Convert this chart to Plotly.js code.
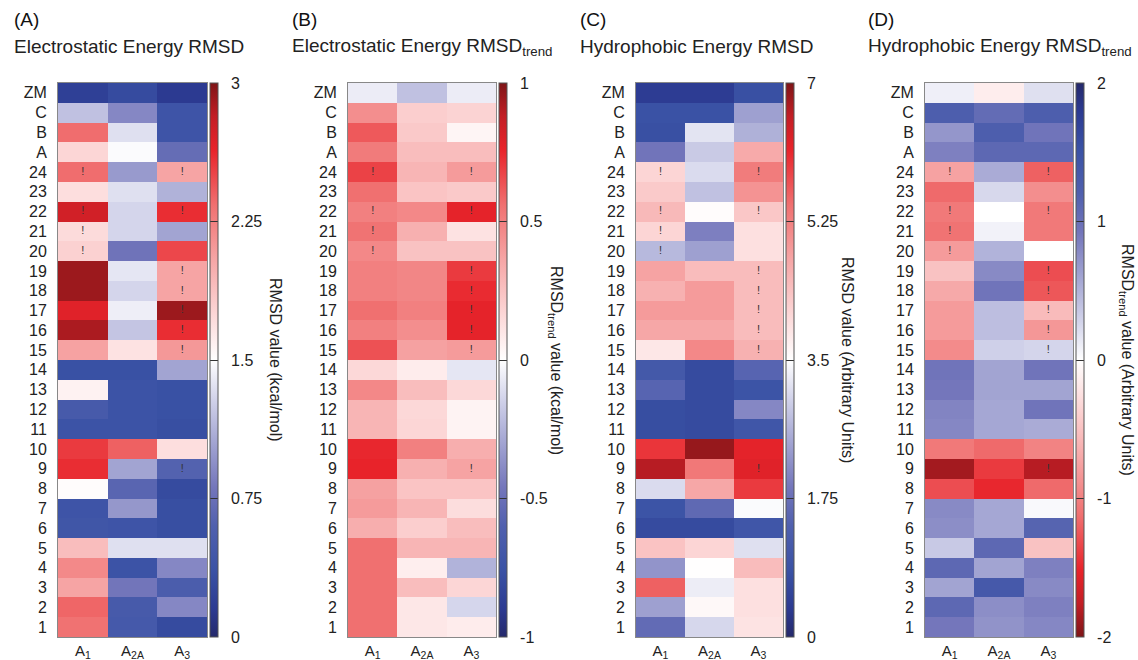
<!DOCTYPE html>
<html><head><meta charset="utf-8">
<script src="https://cdn.plot.ly/plotly-3.0.1.min.js"></script>
<style>html,body{margin:0;padding:0;background:#fff}#chart{width:1138px;height:660px}</style>
</head><body><div id="chart"></div>
<script>
// Rows bottom to top
const rows = ['1','2','3','4','5','6','7','8','9','10','11','12','13','14','15','16','17','18','19','20','21','22','23','24','A','B','C','ZM'];
const receptors = ['A1','A2A','A3'];
const receptorLabels = ['A<sub>1</sub>','A<sub>2A</sub>','A<sub>3</sub>'];

// (A) Electrostatic Energy RMSD (kcal/mol)
const elecRmsdA1  = [2.33,2.38,2.05,2.2,1.9,0.42,0.4,1.52,2.6,2.55,0.38,0.5,1.58,0.35,2.06,2.88,2.68,2.92,2.92,1.78,1.72,2.75,1.7,2.35,1.75,2.35,1.2,0.2];
const elecRmsdA2A = [0.48,0.5,0.8,0.38,1.35,0.4,0.98,0.65,1.05,2.4,0.38,0.38,0.38,0.35,1.68,1.22,1.42,1.3,1.38,0.78,1.3,1.3,1.35,1.0,1.48,1.35,0.9,0.3];
const elecRmsdA3  = [0.3,0.9,0.55,0.9,1.35,0.33,0.33,0.3,0.62,1.7,0.33,0.35,0.35,1.05,2.12,2.6,2.92,2.05,2.05,2.5,1.05,2.6,1.12,2.05,0.72,0.4,0.4,0.15];

// (B) Electrostatic Energy RMSD_trend (kcal/mol)
const elecTrendA1  = [0.56,0.56,0.56,0.56,0.56,0.33,0.4,0.38,0.76,0.75,0.3,0.3,0.47,0.16,0.64,0.5,0.56,0.5,0.5,0.47,0.55,0.5,0.56,0.68,0.52,0.62,0.45,-0.06];
const elecTrendA2A = [0.1,0.1,0.27,0.07,0.3,0.2,0.3,0.24,0.32,0.5,0.17,0.16,0.27,0.08,0.38,0.45,0.5,0.48,0.48,0.25,0.32,0.47,0.24,0.3,0.27,0.22,0.2,-0.2];
const elecTrendA3  = [0.08,-0.13,0.17,-0.25,0.3,0.27,0.14,0.24,0.37,0.33,0.05,0.05,0.16,-0.08,0.4,0.77,0.77,0.74,0.7,0.25,0.12,0.77,0.22,0.4,0.27,0.04,0.18,-0.06];

// (C) Hydrophobic Energy RMSD (arbitrary units)
const hydroRmsdA1  = [1.65,2.4,5.6,2.25,4.35,0.7,0.9,3.1,6.65,6.0,0.75,0.75,1.5,1.1,3.85,4.75,4.9,4.6,4.8,2.7,4.1,4.5,4.25,4.1,1.85,0.8,0.85,0.4];
const hydroRmsdA2A = [3.05,3.6,3.3,3.52,4.1,0.7,1.6,4.75,5.35,6.85,0.7,0.7,0.7,0.7,5.15,4.75,4.9,4.9,4.45,2.4,2.0,3.55,2.8,3.1,2.9,3.2,0.85,0.4];
const hydroRmsdA3  = [3.9,3.95,3.95,4.45,3.15,1.0,3.45,5.95,6.25,6.2,1.0,2.1,0.9,1.5,4.6,4.45,4.45,4.45,4.45,3.95,3.95,4.3,5.0,5.3,4.7,2.6,2.4,0.8];

// (D) Hydrophobic Energy RMSD_trend (arbitrary units)
const hydroTrendA1  = [0.92,1.1,0.6,1.1,0.35,0.75,0.78,-1.3,-1.87,-1.05,0.8,0.82,0.92,0.95,-0.92,-0.8,-0.8,-0.7,-0.5,-0.8,-1.1,-1.05,-1.15,-0.75,0.85,0.7,1.25,0.1];
const hydroTrendA2A = [0.72,0.75,1.35,0.6,1.1,0.58,0.58,-1.5,-1.4,-1.15,0.58,0.58,0.6,0.6,0.3,0.42,0.42,0.95,0.78,0.5,0.08,0.0,0.25,0.55,1.1,1.25,1.05,-0.15];
const hydroTrendA3  = [0.8,0.85,0.78,0.85,-0.5,1.15,0.04,-1.15,-1.8,-0.98,0.55,0.95,0.6,0.95,0.27,-0.83,-0.55,-1.25,-1.3,0.0,-1.05,-1.05,-0.9,-1.2,1.1,0.95,1.25,0.2];

// Cells marked with "!"
const flaggedA1 = ['20','21','22','24'];
const flaggedA2A = [];
const flaggedA3 = ['9','15','16','17','18','19','22','24'];

// Colour bar ticks
const ticksA = [0,0.75,1.5,2.25,3];
const ticksB = [-1,-0.5,0,0.5,1];
const ticksC = [0,1.75,3.5,5.25,7];
const ticksD = [-2,-1,0,1,2];

const colorscale = [
  [0,'#25296b'],[0.05,'#2c3a91'],[0.12,'#3a52a5'],[0.2,'#5060ae'],[0.27,'#7476bb'],[0.35,'#a2a4d2'],
  [0.43,'#d2d3ea'],[0.5,'#ffffff'],[0.58,'#fcd8d8'],[0.68,'#f6a6a6'],[0.78,'#f07070'],[0.88,'#e8232a'],
  [0.94,'#c21e25'],[1,'#7e1517']
];

function buildZ(c1,c2,c3){ return rows.map((r,i)=>[c1[i],c2[i],c3[i]]); }
const flags = [flaggedA1, flaggedA2A, flaggedA3];
const flagX = [], flagY = [];
flags.forEach((f,j)=>f.forEach(r=>{ flagX.push(receptors[j]); flagY.push(r); }));

const W = 1138, H = 660;
const yTop = 83, yBot = 637;
const panels = [
  {z: buildZ(elecRmsdA1, elecRmsdA2A, elecRmsdA3), zmin:0, zmax:3, ticks:ticksA, rev:false, x0:58, x1:207, cb:210,
   letter:'(A)', title:'Electrostatic Energy RMSD', lx:12, cbt:'RMSD value (kcal/mol)', cbtx:276},
  {z: buildZ(elecTrendA1, elecTrendA2A, elecTrendA3), zmin:-1, zmax:1, ticks:ticksB, rev:false, x0:348, x1:496, cb:499,
   letter:'(B)', title:'Electrostatic Energy RMSD<sub>trend</sub>', lx:290, cbt:'RMSD<sub>trend</sub> value (kcal/mol)', cbtx:556},
  {z: buildZ(hydroRmsdA1, hydroRmsdA2A, hydroRmsdA3), zmin:0, zmax:7, ticks:ticksC, rev:false, x0:636, x1:783, cb:786,
   letter:'(C)', title:'Hydrophobic Energy RMSD', lx:578, cbt:'RMSD value (Arbitrary Units)', cbtx:848},
  {z: buildZ(hydroTrendA1, hydroTrendA2A, hydroTrendA3), zmin:-2, zmax:2, ticks:ticksD, rev:true, x0:925, x1:1073, cb:1076,
   letter:'(D)', title:'Hydrophobic Energy RMSD<sub>trend</sub>', lx:866, cbt:'RMSD<sub>trend</sub> value (Arbitrary Units)', cbtx:1127}
];

const font = 'Liberation Sans, Arial, Helvetica, sans-serif';
const data = [], annotations = [];
const layout = {
  width: W, height: H, margin:{l:0,r:0,t:0,b:0}, paper_bgcolor:'#fff', plot_bgcolor:'#fff',
  font:{family:font, color:'#222'}, showlegend:false, annotations: annotations
};
const pad = '\u00a0\u00a0';
panels.forEach((p,k)=>{
  const s = k===0 ? '' : String(k+1);
  data.push({
    type:'heatmap', x: receptors, y: rows, z: p.z, zmin:p.zmin, zmax:p.zmax,
    colorscale: colorscale, reversescale: p.rev,
    xaxis:'x'+s, yaxis:'y'+s, hoverinfo:'x+y+z',
    colorbar:{
      x: p.cb/W, xanchor:'left', y: 1-yBot/H, yanchor:'bottom', len:(yBot-yTop)/H, lenmode:'fraction',
      thickness:8, thicknessmode:'pixels', xpad:0, ypad:0, outlinewidth:1, outlinecolor:'#555',
      tickmode:'array', tickvals:p.ticks, ticktext:p.ticks.map(v=>pad+String(v)),
      ticks:'inside', ticklen:8, tickcolor:'#333', tickwidth:1,
      tickfont:{size:16, family:font, color:'#222'}
    }
  });
  data.push({
    type:'scatter', mode:'text', x: flagX, y: flagY, text: flagX.map(()=> '!'),
    textfont:{size:11, color:'#333', family:font}, xaxis:'x'+s, yaxis:'y'+s, hoverinfo:'skip', cliponaxis:false
  });
  layout['xaxis'+s] = {
    domain:[p.x0/W, p.x1/W], anchor:'y'+s, type:'category', range:[-0.5,2.5],
    tickmode:'array', tickvals: receptors, ticktext: receptorLabels,
    tickfont:{size:15, family:font, color:'#222'}, showline:true, mirror:true, linecolor:'#888', linewidth:1,
    ticks:'', showgrid:false, zeroline:false, fixedrange:true, ticklabelstandoff:0
  };
  layout['yaxis'+s] = {
    domain:[1-yBot/H, 1-yTop/H], anchor:'x'+s, type:'category', range:[-0.5,27.5],
    tickmode:'array', tickvals: rows, ticktext: rows,
    tickfont:{size:16, family:font, color:'#222'}, showline:true, mirror:true, linecolor:'#888', linewidth:1,
    ticks:'', showgrid:false, zeroline:false, fixedrange:true, ticklabelstandoff:7
  };
  annotations.push({text:p.letter, x:p.lx/W, y:1-20/H, xref:'paper', yref:'paper', xanchor:'left', yanchor:'middle',
    showarrow:false, font:{size:19, family:font, color:'#111'}});
  annotations.push({text:p.title, x:p.lx/W, y:1-47/H, xref:'paper', yref:'paper', xanchor:'left', yanchor:'middle',
    showarrow:false, font:{size:19, family:font, color:'#222'}});
  annotations.push({text:p.cbt, x:p.cbtx/W, y:1-((yTop+yBot)/2)/H, xref:'paper', yref:'paper', xanchor:'center', yanchor:'middle',
    textangle:90, showarrow:false, font:{size:16, family:font, color:'#222'}});
});
Plotly.newPlot('chart', data, layout, {displayModeBar:false, staticPlot:true});
</script></body></html>
